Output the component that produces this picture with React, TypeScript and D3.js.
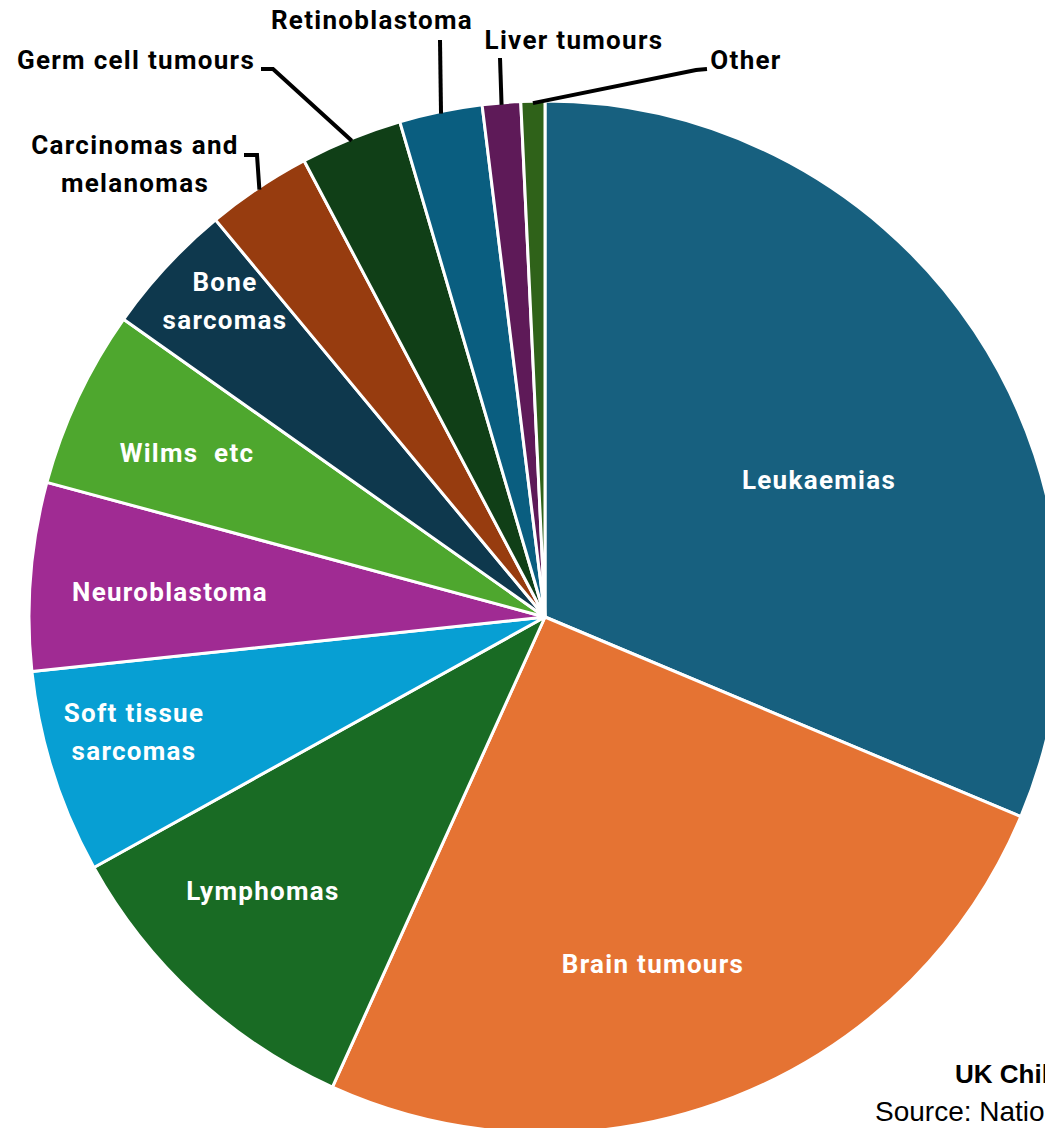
import React from "react";
import * as d3 from "d3";

const categories = [
  "Leukaemias",
  "Brain tumours",
  "Lymphomas",
  "Soft tissue sarcomas",
  "Neuroblastoma",
  "Wilms etc",
  "Bone sarcomas",
  "Carcinomas and melanomas",
  "Germ cell tumours",
  "Retinoblastoma",
  "Liver tumours",
  "Other",
];
const shares = [31.4, 25.5, 10.2, 6.4, 5.9, 5.6, 4.2, 3.3, 3.2, 2.6, 1.2, 0.75];
const colors = [
  "#17607f", "#e57333", "#196b24", "#079fd3", "#a02b93", "#4ea72e",
  "#0e384d", "#973c0f", "#103f17", "#0a5e80", "#5e1a58", "#2f6219",
];
// label text lines (as displayed)
const labelLines = [
  ["Leukaemias"],
  ["Brain tumours"],
  ["Lymphomas"],
  ["Soft tissue", "sarcomas"],
  ["Neuroblastoma"],
  ["Wilms  etc"],
  ["Bone", "sarcomas"],
  ["Carcinomas and", "melanomas"],
  ["Germ cell tumours"],
  ["Retinoblastoma"],
  ["Liver tumours"],
  ["Other"],
];
const footerLines = ["UK Children's cancers (0-14 years)", "Source: National Cancer Registration"];

// layout (positions, not data)
const W = 1045, H = 1128;
const cx = 545, cy = 617, R = 516;
type Lay = { x: number; y: number; inside: boolean; leader?: [number, number][] };
const layout: Lay[] = [
  { x: 819, y: 480, inside: true },
  { x: 653, y: 964, inside: true },
  { x: 263, y: 891, inside: true },
  { x: 134, y: 713, inside: true },
  { x: 170, y: 592, inside: true },
  { x: 187, y: 453, inside: true },
  { x: 225, y: 282, inside: true },
  { x: 135, y: 145, inside: false, leader: [[244, 155], [257, 155]] },
  { x: 136, y: 60, inside: false, leader: [[261, 69], [273, 69]] },
  { x: 372, y: 20, inside: false, leader: [[440, 40]] },
  { x: 574, y: 40, inside: false, leader: [[500, 58]] },
  { x: 746, y: 60, inside: false, leader: [[707, 69], [696, 70]] },
];

export default function App() {
  const pie = d3.pie<number>().sort(null).value((d) => d)(shares);
  const arc = d3.arc<d3.PieArcDatum<number>>().innerRadius(0).outerRadius(R);
  const line = d3.line();
  const fontFam = "Roboto, 'Liberation Sans', sans-serif";
  return (
    <svg width={W} height={H} style={{ position: "absolute", left: 0, top: 0, background: "#fff" }}>
      <g transform={`translate(${cx},${cy})`}>
        {pie.map((p, i) => (
          <path key={i} d={arc(p) || ""} fill={colors[i]} stroke="#fff" strokeWidth={3} strokeLinejoin="round" />
        ))}
      </g>
      {pie.map((p, i) => {
        const L = layout[i];
        if (!L.leader) return null;
        const mid = (p.startAngle + p.endAngle) / 2;
        const end: [number, number] = [cx + (R - 2) * Math.sin(mid), cy - (R - 2) * Math.cos(mid)];
        const pts = [...L.leader, end] as [number, number][];
        return <path key={"l" + i} d={line(pts) || ""} fill="none" stroke="#000" strokeWidth={4} />;
      })}
      {labelLines.map((lines, i) => {
        const L = layout[i];
        const lh = 38;
        return (
          <text
            key={"t" + i}
            x={L.x}
            y={L.y}
            textAnchor="middle"
            fontFamily={fontFam}
            fontWeight={700}
            fontSize={26}
            letterSpacing={1.3}
            fill={L.inside ? "#fff" : "#000"}
            style={{ whiteSpace: "pre" }}
          >
            {lines.map((s, j) => (
              <tspan key={j} x={L.x} y={L.y + j * lh} dy="0.35em">
                {s}
              </tspan>
            ))}
          </text>
        );
      })}
      <text x={955} y={1083} fontFamily="'Liberation Sans', Carlito, sans-serif" fontWeight={700} fontSize={26} fill="#000">
        {footerLines[0]}
      </text>
      <text x={875} y={1121} fontFamily="'Liberation Sans', Carlito, sans-serif" fontSize={28} fill="#000">
        {footerLines[1]}
      </text>
    </svg>
  );
}
